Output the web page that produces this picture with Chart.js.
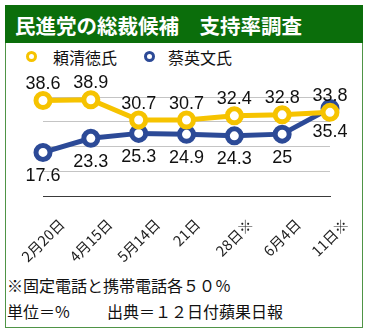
<!DOCTYPE html>
<html lang="ja">
<head>
<meta charset="utf-8">
<title>民進党の総裁候補　支持率調査</title>
<script src="https://cdn.jsdelivr.net/npm/chart.js@4.4.1/dist/chart.umd.min.js"></script>
<style>
  html, body { margin: 0; padding: 0; background: #fff; }
  body {
    width: 370px; height: 333px; position: relative; overflow: hidden;
    font-family: "Noto Sans CJK JP", sans-serif; color: #111;
  }
  #frame {
    position: absolute; left: 5px; top: 5px; width: 358px; height: 323px;
    box-sizing: border-box; border: 1.5px solid #4f9446;
  }
  #title {
    position: absolute; left: 5px; top: 5px; width: 358px; height: 38px;
    background: #0b6e0b; color: #fff; font-weight: bold; font-size: 20.5px;
    line-height: 40px; padding-left: 10px; box-sizing: border-box; white-space: pre;
  }
  .lg-item { position: absolute; top: 46px; height: 22px; line-height: 22px; font-size: 16px; white-space: nowrap; }
  .lg-mark {
    position: absolute; top: 5px; left: 0; width: 11px; height: 11px; box-sizing: border-box;
    border-radius: 50%; border: 3.5px solid; background: #fff;
  }
  .lg-text { position: absolute; top: 0; }
  #lg0 { left: 26px; } #lg0 .lg-text { left: 27px; }
  #lg1 { left: 143.5px; } #lg1 .lg-text { left: 24.5px; }
  .note { position: absolute; font-size: 16px; line-height: 22px; white-space: pre; }
  #note1 { left: 7px; top: 274px; }
  #note2a { left: 7px; top: 300px; }
  #note2b { left: 107px; top: 300px; }
  #chart { position: absolute; left: 0; top: 0; }
</style>
</head>
<body>
<div id="frame"></div>
<div id="title">民進党の総裁候補　支持率調査</div>
<div id="legend"></div>
<div class="note" id="note1">※固定電話と携帯電話各５０％</div>
<div class="note" id="note2a">単位＝%</div>
<div class="note" id="note2b">出典＝１２日付蘋果日報</div>
<canvas id="chart" width="370" height="333"></canvas>
<script>
// Survey dates (x axis)
const categories = ['2月20日', '4月15日', '5月14日', '21日', '28日※', '6月4日', '11日※'];
// Support rates, %
const laiValues = [38.6, 38.9, 30.7, 30.7, 32.4, 32.8, 33.8];
const tsaiValues = [17.6, 23.3, 25.3, 24.9, 24.3, 25, 35.4];
const seriesNames = ['頼清徳氏', '蔡英文氏'];
const yTicks = [0, 10, 20, 30, 40];

const YELLOW = '#f6c300';
const BLUE = '#2c4a97';
const seriesColors = [YELLOW, BLUE];

// HTML legend built from the series names
const legend = document.getElementById('legend');
seriesNames.forEach((name, i) => {
  const item = document.createElement('div');
  item.className = 'lg-item';
  item.id = 'lg' + i;
  const mark = document.createElement('span');
  mark.className = 'lg-mark';
  mark.style.borderColor = seriesColors[i];
  const text = document.createElement('span');
  text.className = 'lg-text';
  text.textContent = name;
  item.appendChild(mark);
  item.appendChild(text);
  legend.appendChild(item);
});

// Value labels: first series above its points, second series below
const valueLabels = {
  id: 'valueLabels',
  afterDatasetsDraw(chart) {
    const { ctx } = chart;
    ctx.save();
    ctx.font = '18px "Liberation Sans", Arial, sans-serif';
    ctx.fillStyle = '#111';
    ctx.textAlign = 'center';
    ctx.textBaseline = 'alphabetic';
    chart.data.datasets.forEach((ds, di) => {
      const meta = chart.getDatasetMeta(di);
      const dy = di === 0 ? -11.5 : 28.5;
      meta.data.forEach((pt, i) => {
        ctx.fillText(String(ds.data[i]), pt.x, pt.y + dy);
      });
    });
    ctx.restore();
  }
};

// Category labels rotated 45°, centred under each tick
const dateLabels = {
  id: 'dateLabels',
  afterDraw(chart) {
    const { ctx } = chart;
    const xs = chart.scales.x;
    const size = 14.5;
    const topY = 217;
    ctx.save();
    ctx.font = size + 'px "Noto Sans CJK JP", sans-serif';
    ctx.fillStyle = '#222';
    ctx.textAlign = 'center';
    ctx.textBaseline = 'middle';
    chart.data.labels.forEach((label, i) => {
      const x = xs.getPixelForTick(i);
      const w = ctx.measureText(label).width;
      const cy = topY + (w + size * 0.9) * Math.SQRT1_2 / 2;
      ctx.save();
      ctx.translate(x, cy);
      ctx.rotate(-Math.PI / 4);
      ctx.fillText(label, 0, 0);
      ctx.restore();
    });
    ctx.restore();
  }
};

function lineSet(label, data, color) {
  return {
    label, data,
    borderColor: color,
    backgroundColor: color,
    borderWidth: 5,
    pointRadius: 7,
    pointHoverRadius: 7,
    pointBorderWidth: 5,
    pointBorderColor: color,
    pointBackgroundColor: '#fff',
    tension: 0,
    clip: false
  };
}

new Chart(document.getElementById('chart'), {
  type: 'line',
  data: {
    labels: categories,
    datasets: [
      lineSet(seriesNames[0], laiValues, YELLOW),
      lineSet(seriesNames[1], tsaiValues, BLUE)
    ]
  },
  options: {
    responsive: false,
    animation: false,
    devicePixelRatio: 1,
    events: [],
    layout: { padding: { left: 43, right: 40, top: 97, bottom: 137 } },
    plugins: { legend: { display: false }, tooltip: { enabled: false } },
    scales: {
      x: {
        offset: false,
        grid: { display: false, drawTicks: false },
        border: { display: true, color: '#3a3a3a', width: 1 },
        ticks: { display: false },
        afterFit(s) { s.height = 0; }
      },
      y: {
        min: yTicks[0],
        max: yTicks[yTicks.length - 1],
        grid: { color: '#c4c4c4', drawTicks: false },
        border: { display: false },
        ticks: { display: false },
        afterBuildTicks(s) { s.ticks = yTicks.map(v => ({ value: v })); },
        afterFit(s) { s.width = 0; }
      }
    }
  },
  plugins: [valueLabels, dateLabels]
});
</script>
</body>
</html>
